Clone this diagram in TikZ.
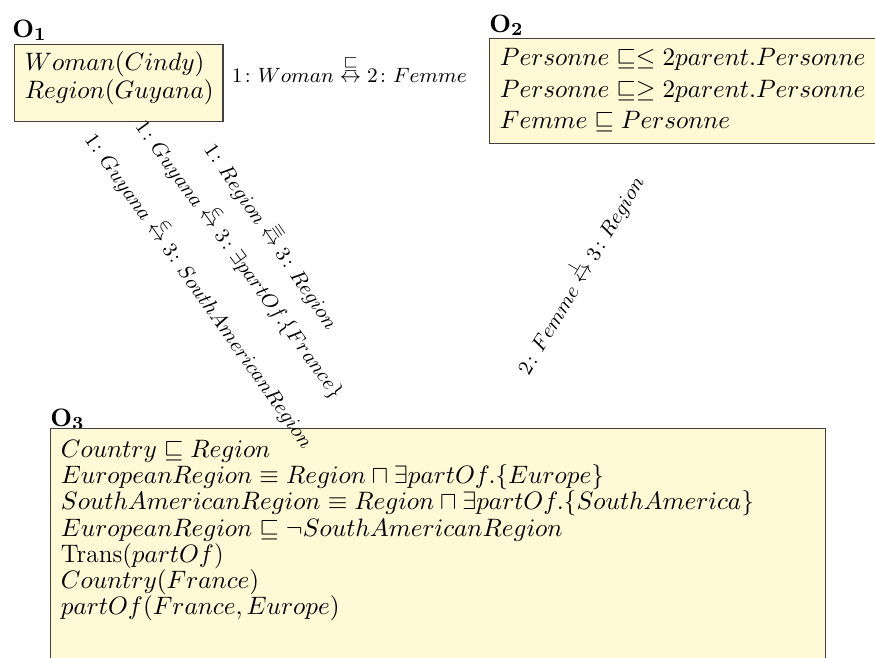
\documentclass[tikz,border=0pt]{standalone}
\usepackage{amsmath}
\usepackage{amssymb}
\usetikzlibrary{calc,positioning}
\definecolor{ontoyellow}{RGB}{255,249,214}

\begin{document}
\begin{tikzpicture}[x=0.4348pt,y=-0.4348pt,
    onto/.style={draw=black!75,fill=ontoyellow,line width=0.5pt,anchor=north west,
      inner xsep=4.5pt,inner ysep=0pt,align=left},
    ontoname/.style={anchor=base west,inner sep=0pt,font=\fontsize{11}{13}\selectfont},
    mapping/.style={sloped,inner sep=1pt,font=\fontsize{9.5}{11}\selectfont}]
  \useasboundingbox (0,0) rectangle (875,658);
  % names of the ontologies
  \node[ontoname] (n_1) at (12,37) {$\mathbf{O_1}$};
  \node[ontoname] (n_2) at (489,32) {$\mathbf{O_2}$};
  \node[ontoname] (n_3) at (50,426) {$\mathbf{O_3}$};
  % ontologies
  \node[onto,text width=81.6pt,text height=11.2pt,text depth=22.3pt,
    font=\fontsize{11}{12.2}\selectfont] (o_1) at (14,44)
    {$Woman(Cindy)$\\$Region(Guyana)$};
  \node[onto,text width=165pt,text height=11.7pt,text depth=33.9pt,
    font=\fontsize{11}{13.8}\selectfont] (o_2) at (489,38)
    {$Personne \sqsubseteq \leq 2parent.Personne$\\
     $Personne \sqsubseteq \geq 2parent.Personne$\\
     $Femme \sqsubseteq Personne$};
  \node[onto,text width=328pt,text height=12.6pt,text depth=140pt,
    font=\fontsize{11}{11.4}\selectfont] (o_3) at (50,428)
    {$Country \sqsubseteq Region$\\
     $EuropeanRegion \equiv Region \sqcap \exists partOf.\{Europe\}$\\
     $SouthAmericanRegion \equiv Region \sqcap \exists partOf.\{SouthAmerica\}$\\
     $EuropeanRegion \sqsubseteq \neg SouthAmericanRegion$\\
     Trans($partOf$)\\
     $Country(France)$\\
     $partOf(France, Europe)$};
  % ends of the mappings
  \coordinate (w_1) at ($(o_1.north east)+(0,38)$);
  \coordinate (w_2) at ($(o_2.north west)+(0,44)$);
  \coordinate (s_1) at ($(o_1.north west)+(69,77)$);
  \coordinate (s_2) at ($(o_1.north west)+(127.6,77)$);
  \coordinate (s_3) at ($(o_1.north west)+(181.2,77)$);
  \coordinate (s_4) at ($(o_2.north west)+(166.4,105)$);
  \coordinate (t_1) at ($(o_3.north west)+(249.7,0)$);
  \coordinate (t_2) at ($(o_3.north west)+(315.4,0)$);
  \coordinate (t_3) at ($(o_3.north west)+(354.7,0)$);
  \coordinate (t_4) at ($(o_3.north west)+(435.3,0)$);
  % mappings
  \path
    (w_1) -- node[mapping,pos=.474,anchor=base]
      {$1\colon Woman \stackrel{\sqsubseteq}{\leftrightarrow} 2\colon Femme$} (w_2)
    (s_1) -- node[mapping,pos=.547]
      {$1\colon Guyana \stackrel{\in}{\leftrightarrow} 3\colon SouthAmericanRegion$} (t_1)
    (s_2) -- node[mapping,pos=.446]
      {$1\colon Guyana \stackrel{\in}{\leftrightarrow} 3\colon \exists partOf.\{France\}$} (t_2)
    (s_3) -- node[mapping,pos=.371]
      {$1\colon Region \stackrel{\equiv}{\leftrightarrow} 3\colon Region$} (t_3)
    (t_4) -- node[mapping,pos=.542]
      {$2\colon Femme \stackrel{\perp}{\leftrightarrow} 3\colon Region$} (s_4);
\end{tikzpicture}
\end{document}
